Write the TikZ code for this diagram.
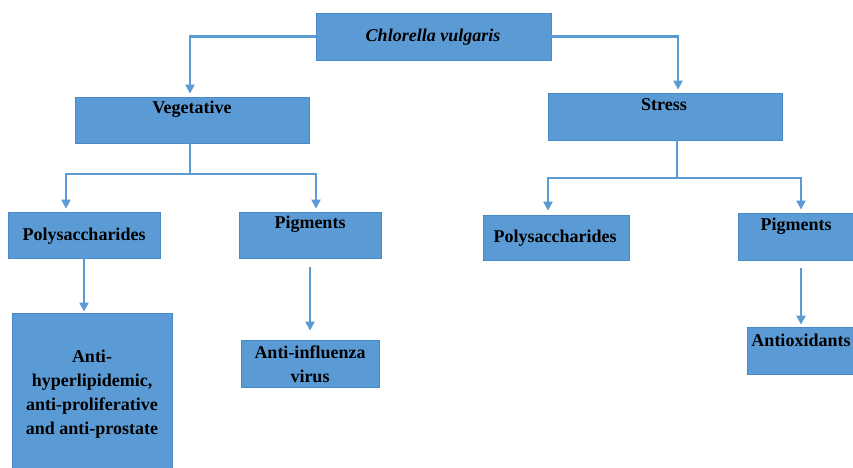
\documentclass[tikz,border=0pt]{standalone}
\usepackage{fontspec}
\setmainfont{Liberation Serif}
\usetikzlibrary{arrows.meta}
\definecolor{boxfill}{RGB}{91,155,213}
\definecolor{boxline}{RGB}{74,137,200}
\definecolor{linkblue}{RGB}{91,155,213}
\tikzset{
  box/.style={draw=boxline, fill=boxfill, line width=0.8pt, inner sep=0pt},
  lbl/.style={font=\bfseries\fontsize{18}{24}\selectfont, align=center, inner sep=0pt},
  link/.style={draw=linkblue, line width=2.2pt},
  arr/.style={link, -{Triangle[width=9pt,length=9pt]}}
}
\begin{document}
\begin{tikzpicture}[x=1pt,y=-1pt]
\useasboundingbox (0,0) rectangle (853,467);
% boxes
\node[box, minimum width=235pt, minimum height=47pt] (cv) at (433.5,36.5) {};
\node[box, minimum width=234pt, minimum height=46pt] (veg) at (192,120) {};
\node[box, minimum width=234pt, minimum height=47pt] (str) at (665,116.5) {};
\node[box, minimum width=152pt, minimum height=46pt] (ps1) at (84,235) {};
\node[box, minimum width=142pt, minimum height=46pt] (pg1) at (310,235) {};
\node[box, minimum width=146pt, minimum height=45pt] (ps2) at (556,237.5) {};
\node[box, minimum width=124pt, minimum height=47pt] (pg2) at (800,236.5) {};
\node[box, minimum width=160pt, minimum height=157pt] (ah) at (92,391.5) {};
\node[box, minimum width=138pt, minimum height=47pt] (ai) at (310,363.5) {};
\node[box, minimum width=115pt, minimum height=47pt] (ao) at (804.5,350.5) {};
% texts
\node[lbl] (cv-t) at (433,37) {\itshape Chlorella vulgaris};
\node[lbl] (veg-t) at (192,109) {Vegetative};
\node[lbl] (str-t) at (664,105) {Stress};
\node[lbl] (ps1-t) at (84,236) {Polysaccharides};
\node[lbl] (pg1-t) at (310,224) {Pigments};
\node[lbl] (ps2-t) at (555,238) {Polysaccharides};
\node[lbl] (pg2-t) at (796,226) {Pigments};
\node[lbl] (ah-t) at (92,394) {Anti-\\hyperlipidemic,\\anti-proliferative\\and anti-prostate};
\node[lbl] (ai-t) at (310,364) {Anti-influenza\\virus};
\node[lbl] (ao-t) at (801,340) {Antioxidants};
% connectors
\coordinate (vj) at (190,174);
\coordinate (sj) at (677,178);
\draw[arr, shorten >=3pt] (cv.west) -| ([xshift=-2pt]veg.north);
\draw[arr, shorten >=3pt] (cv.east) -| ([xshift=13pt]str.north);
\draw[link] ([xshift=-2pt]veg.south) -- (vj);
\draw[arr, shorten >=3pt] (vj) -| ([xshift=-18pt]ps1.north);
\draw[arr, shorten >=3pt] (vj) -| ([xshift=6pt]pg1.north);
\draw[link] ([xshift=12pt]str.south) -- (sj);
\draw[arr, shorten >=4pt] (sj) -| ([xshift=-8pt]ps2.north);
\draw[arr, shorten >=3pt] (sj) -| ([xshift=1pt]pg2.north);
\draw[arr, shorten >=1pt] (ps1.south) -- (ps1.south |- ah.north);
\draw[arr, shorten <=9pt, shorten >=9pt] (pg1.south) -- (pg1.south |- ai.north);
\draw[arr, shorten <=8pt, shorten >=2pt] ([xshift=1pt]pg2.south) -- ([xshift=1pt]pg2.south |- ao.north);
\end{tikzpicture}
\end{document}
